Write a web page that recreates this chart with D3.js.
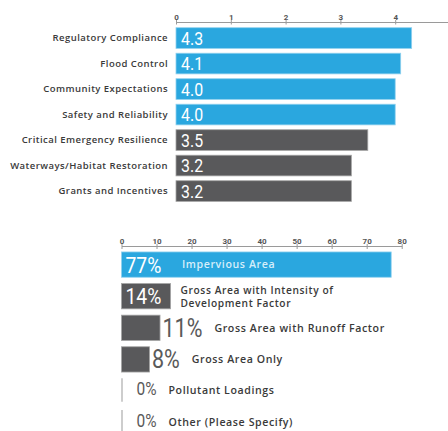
<!DOCTYPE html>
<html>
<head>
<meta charset="utf-8">
<script src="https://cdn.jsdelivr.net/npm/d3@7"></script>
<style>
  html, body { margin: 0; padding: 0; background: #ffffff; }
  svg { display: block; }
  .lbl { font-family: "Open Sans", "DejaVu Sans", sans-serif; font-weight: 600; fill: #3a3a3a; }
  .num { font-family: "Roboto", "Liberation Sans", sans-serif; font-weight: 400; }
  .axis text { font-family: "Roboto", "Liberation Sans", sans-serif; font-weight: bold; font-size: 8px; fill: #555; }
  .axis path, .axis line { stroke: #9a9a9a; stroke-width: 1; }
</style>
</head>
<body>
<svg id="chart" width="448" height="431"></svg>
<script>
// Priority ratings (0–5 scale)
const priorityNames = [
  "Regulatory Compliance",
  "Flood Control",
  "Community Expectations",
  "Safety and Reliability",
  "Critical Emergency Resilience",
  "Waterways/Habitat Restoration",
  "Grants and Incentives"
];
const priorityScores = [4.3, 4.1, 4.0, 4.0, 3.5, 3.2, 3.2];
const priorityHighlight = [true, true, true, true, false, false, false];
const priorityTicks = [0, 1, 2, 3, 4];

// Basis for fees (percent of responses)
const basisNames = [
  "Impervious Area",
  "Gross Area with Intensity of|Development Factor",
  "Gross Area with Runoff Factor",
  "Gross Area Only",
  "Pollutant Loadings",
  "Other (Please Specify)"
];
const basisPercents = [77, 14, 11, 8, 0, 0];
const basisTicks = [0, 10, 20, 30, 40, 50, 60, 70, 80];

const BLUE = "#2aa7df";
const GRAY = "#59595b";
const NUM_SQUEEZE = 0.86;   // horizontal squeeze for the tall numeral style

const svg = d3.select("#chart");

// Condensed numeral: drawn at (x, y) and squeezed horizontally; returns drawn width
function numeral(g, x, y, size, color, txt) {
  const t = g.append("text")
    .attr("class", "num")
    .attr("transform", `translate(${x},${y}) scale(${NUM_SQUEEZE},1)`)
    .attr("font-size", size)
    .attr("fill", color)
    .text(txt);
  return t.node().getComputedTextLength() * NUM_SQUEEZE;
}

// ---------- Top chart: priority scores ----------
const x1 = d3.scaleLinear().domain([0, 5]).range([176, 450]);
const y1 = d3.scaleBand().domain(priorityNames).range([25.3, 203.8])
  .paddingInner(0.19).paddingOuter(0.095);

const ax1 = svg.append("g").attr("class", "axis").attr("transform", "translate(0,22)")
  .call(d3.axisTop(x1).tickValues(priorityTicks).tickFormat(d3.format("d"))
    .tickSizeInner(-2.5).tickSizeOuter(0).tickPadding(2.5));
ax1.selectAll(".tick").append("line").attr("y1", 0).attr("y2", -2).attr("stroke", "#9a9a9a");

const rows1 = svg.append("g").selectAll("g").data(priorityNames).join("g");
rows1.append("rect")
  .attr("x", x1(0))
  .attr("y", d => y1(d))
  .attr("width", (d, i) => x1(priorityScores[i]) - x1(0))
  .attr("height", y1.bandwidth())
  .attr("fill", (d, i) => priorityHighlight[i] ? BLUE : GRAY)
  .attr("stroke", (d, i) => priorityHighlight[i] ? "#8fd0ee" : "#a4a4a4")
  .attr("stroke-width", 0.8);
rows1.each(function (d, i) {
  numeral(d3.select(this), x1(0) + 5, y1(d) + y1.bandwidth() / 2 + 6.6, 18.5, "#ffffff",
    priorityScores[i].toFixed(1));
});
rows1.append("text")
  .attr("class", "lbl")
  .attr("x", 168)
  .attr("y", d => y1(d) + y1.bandwidth() / 2 + 3.3)
  .attr("text-anchor", "end")
  .attr("font-size", 9.5)
  .attr("letter-spacing", 0.45)
  .text(d => d);

// ---------- Bottom chart: fee basis ----------
const x2 = d3.scaleLinear().domain([0, 80]).range([121.5, 401.7]);
const y2 = d3.scaleBand().domain(basisNames).range([248.8, 438.4])
  .paddingInner(0.2).paddingOuter(0.1);

const ax2 = svg.append("g").attr("class", "axis").attr("transform", "translate(0,246)")
  .call(d3.axisTop(x2).tickValues(basisTicks).tickFormat(d3.format("d"))
    .tickSizeInner(-3).tickSizeOuter(0).tickPadding(2.5));
ax2.selectAll(".tick").append("line").attr("y1", 0).attr("y2", -2).attr("stroke", "#9a9a9a");

const rows2 = svg.append("g").selectAll("g").data(basisNames).join("g");

rows2.each(function (name, i) {
  const v = basisPercents[i];
  const g = d3.select(this);
  const top = y2(name), h = y2.bandwidth();
  const w = x2(v) - x2(0);
  const isTop = i === 0;
  const inside = i <= 1;
  const lines = name.split("|");

  if (v > 0) {
    g.append("rect")
      .attr("x", x2(0)).attr("y", top)
      .attr("width", w).attr("height", h)
      .attr("fill", isTop ? BLUE : GRAY)
      .attr("stroke", isTop ? "#8fd0ee" : "#a4a4a4")
      .attr("stroke-width", 0.8);
  } else {
    g.append("line")
      .attr("x1", x2(0) + 0.5).attr("x2", x2(0) + 0.5)
      .attr("y1", top).attr("y2", top + h - 2)
      .attr("stroke", "#bdbdbd").attr("stroke-width", 1.5);
  }

  let fs, valX, valY;
  if (inside) { fs = 22.5; valX = x2(0) + 4; valY = top + h / 2 + 8; }
  else if (v > 0) { fs = 25; valX = x2(v) + 2.5; valY = top + h / 2 + 9; }
  else { fs = 18; valX = x2(0) + 15; valY = top + 17; }
  const valW = numeral(g, valX, valY, fs, inside ? "#ffffff" : "#5a5a5a", v + "%");

  const labX = isTop ? 182 : (i === 1 ? x2(v) + 10 : valX + valW + 12);
  const lineH = 13;
  const labY = v > 0 ? top + h / 2 + 3.8 : valY - 1;
  const y0 = labY - (lines.length - 1) * lineH / 2;
  lines.forEach((t, k) => {
    g.append("text")
      .attr("class", "lbl")
      .attr("x", labX)
      .attr("y", y0 + k * lineH)
      .attr("font-size", lines.length > 1 ? 10.2 : 10.6)
      .attr("letter-spacing", 0.6)
      .style("fill", isTop ? "#d6eefa" : null)
      .text(t);
  });
});
</script>
</body>
</html>
